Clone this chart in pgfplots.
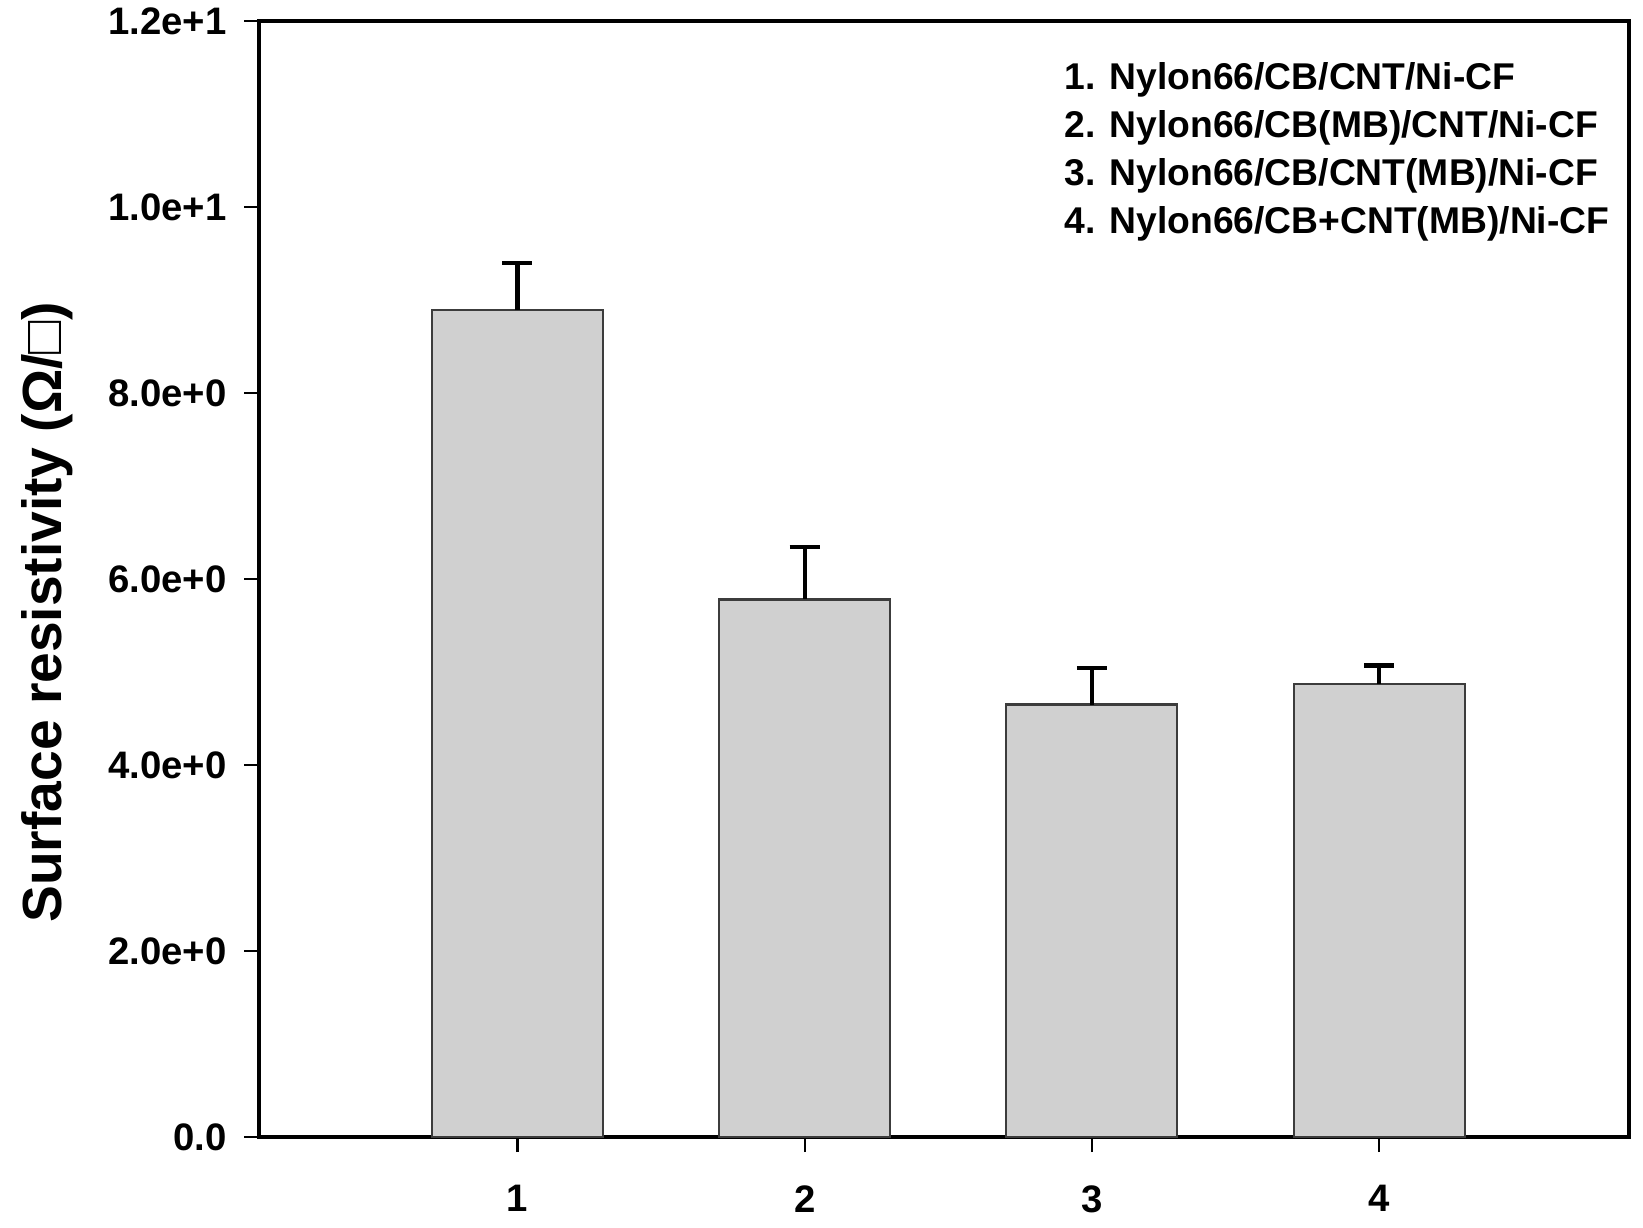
\documentclass[border=0pt]{standalone}
\usepackage{pgfplots}
\pgfplotsset{compat=1.18}
\usepackage{fontspec}
\setmainfont{Liberation Sans}
\definecolor{barfill}{RGB}{208,208,208}
\definecolor{bardraw}{RGB}{60,60,60}
\begin{document}
\begin{tikzpicture}
\begin{axis}[
  at={(0,0)}, anchor=south west,
  scale only axis, width=137mm, height=111.6mm,
  xmin=0.1, xmax=4.87, ymin=0, ymax=12,
  xtick={1,2,3,4}, xticklabels={1,2,3,4},
  ytick={0,2,4,6,8,10,12},
  yticklabels={0.0,2.0e+0,4.0e+0,6.0e+0,8.0e+0,1.0e+1,1.2e+1},
  tick pos=left, tick align=outside, major tick length=1.5mm,
  tick style={black, line width=0.6pt},
  axis line style={line width=1.2pt},
  ticklabel style={font=\fontsize{10.9}{13}\selectfont\bfseries},
  xticklabel style={yshift=-2.1mm},
  yticklabel style={xshift=-0.5mm},
  ylabel={Surface resistivity (Ω/□)},
  ylabel style={font=\fontsize{15.7}{18}\selectfont\bfseries, at={(axis description cs:-0.1547,0.47)}, anchor=center},
]
\addplot[ybar, bar width=17.1mm, bar shift=0pt, fill=barfill, draw=bardraw, line width=0.6pt,
  error bars/.cd, y dir=plus, y explicit, error mark=|,
  error bar style={line width=1.2pt, black},
  error mark options={line width=1.2pt, mark size=1.5mm, black}]
coordinates {(1,8.89) +- (0,0.51) (2,5.78) +- (0,0.56) (3,4.65) +- (0,0.39) (4,4.87) +- (0,0.20)};
\node[anchor=north west, align=left, inner sep=0pt, font=\fontsize{10.6}{13.6}\selectfont\bfseries] at (axis description cs:0.5876,0.963)
  {1. Nylon66/CB/CNT/Ni-CF\\2. Nylon66/CB(MB)/CNT/Ni-CF\\3. Nylon66/CB/CNT(MB)/Ni-CF\\4. Nylon66/CB+CNT(MB)/Ni-CF};
\end{axis}
\pgfresetboundingbox
\path (-25.9mm,-9.0mm) rectangle (138.4mm,113.7mm);
\end{tikzpicture}
\end{document}
